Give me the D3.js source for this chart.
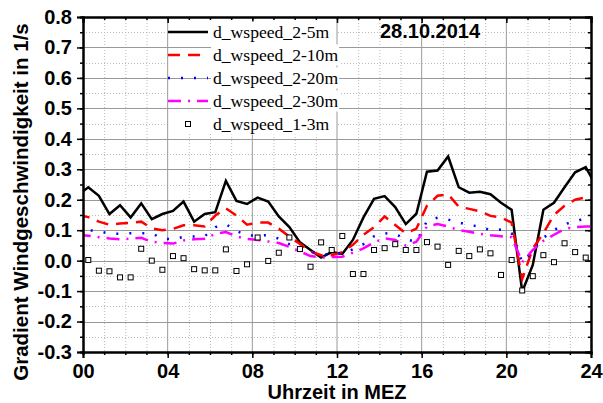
<!DOCTYPE html>
<html>
<head>
<meta charset="utf-8">
<script src="https://cdn.jsdelivr.net/npm/d3@7"></script>
<style>
body { margin: 0; background: #fff; }
svg { display: block; font-family: "Liberation Sans", Arial, sans-serif; }
.tick text { font-weight: bold; font-size: 20px; fill: #000; }
.legend text { font-family: "Liberation Serif", "Times New Roman", serif; font-size: 17.6px; }
</style>
</head>
<body>
<svg id="chart" width="603" height="403"></svg>
<script>
// half-hour means, plotted at the middle of each interval
const hours = d3.range(0.25, 24, 0.5);
// lines get one extra point past each edge, clipped by the frame
const lineHours = [-0.25].concat(hours, [24.25]);

const speed_2_5m = [0.215,
    0.241, 0.213, 0.153, 0.182, 0.142, 0.188, 0.136, 0.153, 0.163, 0.194,
    0.128, 0.153, 0.159, 0.262, 0.196, 0.186, 0.207, 0.194, 0.145, 0.110,
    0.060, 0.035, 0.010, 0.028, 0.022, 0.068, 0.142, 0.203, 0.212, 0.176,
    0.120, 0.154, 0.292, 0.296, 0.342, 0.241, 0.223, 0.226, 0.218, 0.190,
    0.167, -0.102, -0.014, 0.167, 0.190, 0.241, 0.290, 0.307,
    0.245];
const speed_2_10m = [0.150,
    0.143, 0.128, 0.118, 0.122, 0.124, 0.128, 0.106, 0.100, 0.104, 0.116,
    0.116, 0.112, 0.148, 0.172, 0.148, 0.118, 0.125, 0.125, 0.105, 0.079,
    0.055, 0.030, 0.018, 0.018, 0.028, 0.052, 0.085, 0.110, 0.145, 0.117,
    0.090, 0.105, 0.180, 0.213, 0.218, 0.177, 0.170, 0.162, 0.147, 0.142,
    0.125, -0.060, 0.040, 0.090, 0.150, 0.180, 0.200, 0.208,
    0.195];
const speed_2_20m = [0.100,
    0.100, 0.097, 0.088, 0.088, 0.090, 0.090, 0.090, 0.072, 0.070, 0.078,
    0.079, 0.080, 0.110, 0.120, 0.097, 0.083, 0.082, 0.084, 0.072, 0.054,
    0.045, 0.030, 0.022, 0.020, 0.025, 0.037, 0.054, 0.080, 0.090, 0.088,
    0.070, 0.062, 0.130, 0.141, 0.135, 0.125, 0.117, 0.112, 0.100, 0.102,
    0.090, -0.005, 0.030, 0.075, 0.100, 0.120, 0.128, 0.140,
    0.145];
const speed_2_30m = [0.085,
    0.082, 0.077, 0.073, 0.070, 0.072, 0.075, 0.062, 0.058, 0.056, 0.066,
    0.070, 0.072, 0.088, 0.094, 0.080, 0.071, 0.068, 0.063, 0.058, 0.045,
    0.030, 0.015, 0.010, 0.012, 0.013, 0.026, 0.040, 0.060, 0.073, 0.068,
    0.049, 0.062, 0.112, 0.120, 0.112, 0.100, 0.095, 0.088, 0.083, 0.080,
    0.077, -0.005, 0.035, 0.065, 0.085, 0.104, 0.110, 0.112,
    0.112];
const speed_1_3m = [
    0.002, -0.033, -0.035, -0.055, -0.055, 0.039, 0.000, -0.030, 0.015, 0.008,
    -0.028, -0.032, -0.032, 0.037, -0.034, -0.012, 0.076, -0.001, 0.026, 0.076,
    0.038, -0.020, 0.060, 0.035, 0.081, -0.044, -0.044, 0.035, 0.041, 0.054,
    0.035, 0.035, 0.061, 0.046, -0.014, 0.032, 0.015, 0.037, 0.024, -0.047,
    0.002, -0.098, -0.051, 0.018, -0.005, 0.057, 0.028, 0.010];

const xTickLabels = ["00", "04", "08", "12", "16", "20", "24"];
const yTicks = d3.range(-3, 9).map(i => i / 10);
const legendNames = ["d_wspeed_2-5m", "d_wspeed_2-10m", "d_wspeed_2-20m", "d_wspeed_2-30m", "d_wspeed_1-3m"];

const pLeft = 83, pRight = 591, pTop = 17, pBottom = 352;
const x = d3.scaleLinear().domain([0, 24]).range([pLeft, pRight]);
const y = d3.scaleLinear().domain([-0.3, 0.8]).range([pBottom, pTop]);

const svg = d3.select("#chart");

// minor grid (dotted)
const g = svg.append("g");
g.selectAll(".vmin").data(d3.range(1, 24).filter(h => h % 4 != 0))
    .enter().append("line")
    .attr("x1", d => x(d) + 0.5).attr("x2", d => x(d) + 0.5)
    .attr("y1", pTop).attr("y2", pBottom)
    .attr("stroke", "#bbb").attr("stroke-dasharray", "1,2");
g.selectAll(".hmin").data(d3.range(-3, 8).map(i => i / 10 + 0.05))
    .enter().append("line")
    .attr("x1", pLeft).attr("x2", pRight)
    .attr("y1", d => Math.round(y(d)) + 0.5).attr("y2", d => Math.round(y(d)) + 0.5)
    .attr("stroke", "#bbb").attr("stroke-dasharray", "1,2");
// major vertical grid
g.selectAll(".vmaj").data([4, 8, 12, 16, 20])
    .enter().append("line")
    .attr("x1", d => x(d)).attr("x2", d => x(d))
    .attr("y1", pTop).attr("y2", pBottom)
    .attr("stroke", "#999");

// legend background
svg.append("rect").attr("x", 169).attr("y", pTop + 1).attr("width", 167).attr("height", 116)
    .attr("fill", "#fff");

// major horizontal grid
svg.append("g").selectAll("line").data(yTicks.slice(1, -1))
    .enter().append("line")
    .attr("x1", pLeft).attr("x2", pRight)
    .attr("y1", d => Math.round(y(d)) + 0.5).attr("y2", d => Math.round(y(d)) + 0.5)
    .attr("stroke", "#999");

// series
svg.append("clipPath").attr("id", "clip").append("rect")
    .attr("x", pLeft).attr("y", pTop).attr("width", pRight - pLeft).attr("height", pBottom - pTop);
const plot = svg.append("g").attr("clip-path", "url(#clip)");

const series = [
    {vals: speed_2_5m, color: "#000", dash: null},
    {vals: speed_2_10m, color: "#ff0000", dash: "12,8"},
    {vals: speed_2_20m, color: "#0000ff", dash: "2,11"},
    {vals: speed_2_30m, color: "#ff00ff", dash: "13,7,2,7"}
];
const line = d3.line().x((d, i) => x(lineHours[i])).y(d => y(d));
series.forEach(s => {
    plot.append("path").datum(s.vals)
        .attr("d", line)
        .attr("fill", "none")
        .attr("stroke", s.color)
        .attr("stroke-width", 2.5)
        .attr("stroke-dasharray", s.dash);
});
plot.selectAll(".sq").data(speed_1_3m)
    .enter().append("rect")
    .attr("x", (d, i) => x(hours[i]) - 2.5)
    .attr("y", d => y(d) - 2.5)
    .attr("width", 5).attr("height", 5)
    .attr("fill", "#fff").attr("stroke", "#000").attr("stroke-width", 1);

// axes
const majorX = d3.range(0, 25, 4), minorX = d3.range(0, 25, 1);
const minorY = d3.range(-6, 17).map(i => i / 20);

svg.append("g").attr("transform", `translate(0,${pBottom})`)
    .call(d3.axisBottom(x).tickValues(minorX).tickSize(3).tickFormat(""));
svg.append("g").attr("transform", `translate(0,${pBottom})`)
    .call(d3.axisBottom(x).tickValues(majorX).tickSize(6).tickPadding(6)
        .tickFormat((d, i) => xTickLabels[i]));
svg.append("g").attr("transform", `translate(0,${pTop})`)
    .call(d3.axisTop(x).tickValues(minorX).tickSize(-3).tickFormat(""));
svg.append("g").attr("transform", `translate(0,${pTop})`)
    .call(d3.axisTop(x).tickValues(majorX).tickSize(-6).tickFormat(""));
svg.append("g").attr("transform", `translate(${pLeft},0)`)
    .call(d3.axisLeft(y).tickValues(minorY).tickSize(3).tickFormat(""));
svg.append("g").attr("transform", `translate(${pLeft},0)`)
    .call(d3.axisLeft(y).tickValues(yTicks).tickSize(6).tickPadding(5)
        .tickFormat(d => d.toFixed(1)));
svg.append("g").attr("transform", `translate(${pRight},0)`)
    .call(d3.axisRight(y).tickValues(minorY).tickSize(-3).tickFormat(""));
svg.append("g").attr("transform", `translate(${pRight},0)`)
    .call(d3.axisRight(y).tickValues(yTicks).tickSize(-6).tickFormat(""));

svg.selectAll(".domain").attr("stroke-width", 2);
svg.selectAll(".tick line").attr("stroke-width", 1.5);

// legend
const leg = svg.append("g").attr("class", "legend");
legendNames.forEach((name, i) => {
    const cy = 32 + i * 23;
    if (i < 4) {
        leg.append("line")
            .attr("x1", 168).attr("x2", 208).attr("y1", cy).attr("y2", cy)
            .attr("stroke", series[i].color).attr("stroke-width", 2.5)
            .attr("stroke-dasharray", series[i].dash);
    } else {
        leg.append("rect").attr("x", 185.5).attr("y", cy - 2.5)
            .attr("width", 5).attr("height", 5)
            .attr("fill", "#fff").attr("stroke", "#000");
    }
    const bg = leg.append("rect").attr("fill", "#fff");
    const t = leg.append("text").attr("x", 213).attr("y", cy + 6).text(name);
    const w = t.node().getComputedTextLength();
    bg.attr("x", 211).attr("y", cy - 10.5).attr("width", w + 3).attr("height", 21);
});

// title and axis labels
svg.append("text").attr("x", 380).attr("y", 38)
    .attr("font-size", 20).attr("font-weight", "bold").text("28.10.2014");
svg.append("text").attr("x", (pLeft + pRight) / 2).attr("y", 399)
    .attr("text-anchor", "middle").attr("font-size", 20).attr("font-weight", "bold")
    .text("Uhrzeit in MEZ");
svg.append("text").attr("transform", "translate(28,202) rotate(-90)")
    .attr("text-anchor", "middle").attr("font-size", 20.5).attr("font-weight", "bold")
    .text("Gradient Windgeschwindigkeit in 1/s");
</script>
</body>
</html>
